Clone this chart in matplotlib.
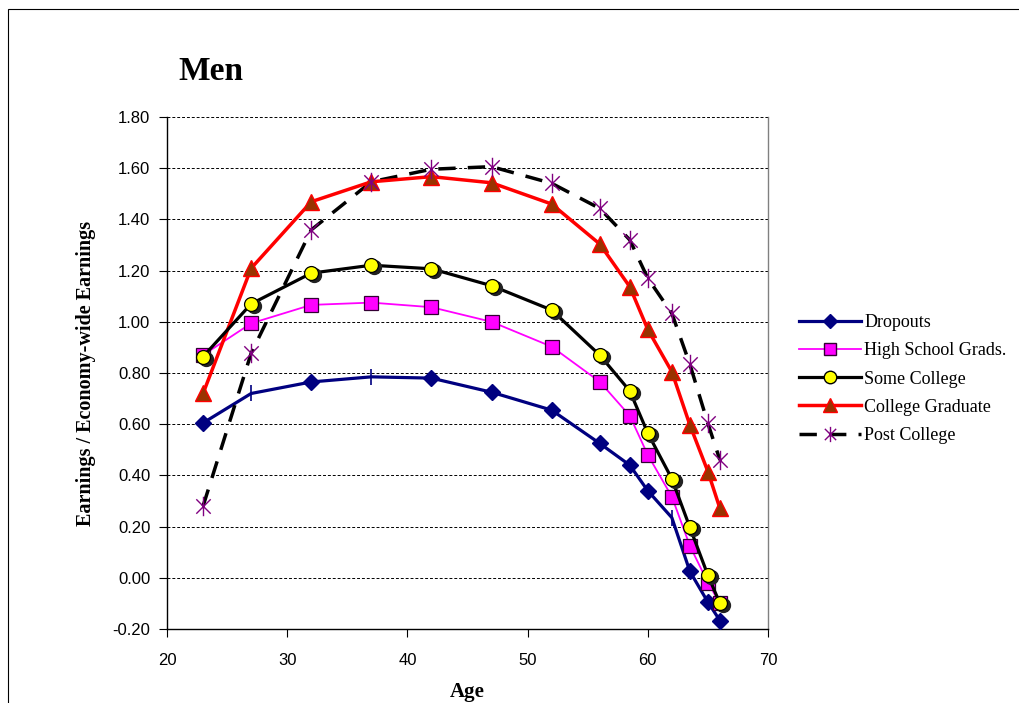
import matplotlib
matplotlib.use("Agg")
import matplotlib.pyplot as plt
from matplotlib.lines import Line2D
from matplotlib.path import Path
from matplotlib.patches import Rectangle
import numpy as np

ages = [23, 27, 32, 37, 42, 47, 52, 56, 58.5, 60, 62, 63.5, 65, 66]
dropouts = [0.605, 0.72, 0.765, 0.785, 0.78, 0.725, 0.655, 0.525, 0.44, 0.34, 0.235, 0.025, -0.095, -0.167]
hs_grads = [0.87, 0.994, 1.066, 1.075, 1.057, 1.0, 0.903, 0.766, 0.633, 0.48, 0.317, 0.125, -0.019, -0.10]
some_college = [0.864, 1.07, 1.19, 1.221, 1.207, 1.141, 1.046, 0.87, 0.73, 0.565, 0.387, 0.197, 0.01, -0.10]
college_grad = [0.72, 1.209, 1.469, 1.547, 1.567, 1.543, 1.46, 1.304, 1.137, 0.97, 0.805, 0.597, 0.415, 0.271]
post_college = [0.28, 0.877, 1.359, 1.547, 1.596, 1.606, 1.541, 1.443, 1.32, 1.17, 1.033, 0.834, 0.603, 0.46]

labels = ["Dropouts", "High School Grads.", "Some College", "College Graduate", "Post College"]
yticks = [-0.2, 0.0, 0.2, 0.4, 0.6, 0.8, 1.0, 1.2, 1.4, 1.6, 1.8]
xticks = [20, 30, 40, 50, 60, 70]

serif = "Liberation Serif"
sans = "Liberation Sans"

fig = plt.figure(figsize=(10.19, 7.03), dpi=100)
W, H = 1019, 703
ax = fig.add_axes([167 / W, 1 - 629 / H, (768 - 167) / W, (629 - 117) / H])

# outer chart border
fig.patches.append(Rectangle((8 / W, -0.05), 1.2, 1 - 9 / H + 0.05, transform=fig.transFigure,
                             fill=False, edgecolor="black", linewidth=0.8))

# star marker: X plus vertical line
star = Path([(-1, -1), (1, 1), (-1, 1), (1, -1), (0, -1.35), (0, 1.35)],
            [Path.MOVETO, Path.LINETO, Path.MOVETO, Path.LINETO, Path.MOVETO, Path.LINETO])

# Dropouts
dia_idx = [i for i in range(len(ages)) if i not in (1, 3, 10)]
tick_idx = [1, 3, 10]
ax.plot(ages, dropouts, color="#000080", lw=2.3, marker="D", markersize=8,
        markerfacecolor="#000080", markeredgecolor="#000080", markevery=dia_idx, zorder=3)
ax.plot([ages[i] for i in tick_idx], [dropouts[i] for i in tick_idx], ls="none",
        marker="|", markersize=11, markeredgewidth=1.2, color="#000080", zorder=3)

# High school grads
ax.plot(ages, hs_grads, color="#FF00FF", lw=1.3, marker="s", markersize=10,
        markerfacecolor="#FF00FF", markeredgecolor="#330033", markeredgewidth=0.9, zorder=4)

# Some college (with slight shadow)
ax.plot(ages, some_college, color="black", lw=2.3, zorder=5)
offs = 0.25
ax.plot([a + offs for a in ages], [v - 0.008 for v in some_college], ls="none", marker="o",
        markersize=10, markerfacecolor="#222222", markeredgecolor="#222222", zorder=5)
ax.plot(ages, some_college, ls="none", marker="o", markersize=10,
        markerfacecolor="#FFFF00", markeredgecolor="black", markeredgewidth=0.9, zorder=6)

# College graduate
ax.plot(ages, college_grad, color="#FF0000", lw=2.5, marker="^", markersize=12,
        markerfacecolor="#993300", markeredgecolor="#FF0000", markeredgewidth=1.0, zorder=4)

# Post college
ax.plot(ages, post_college, color="black", lw=2.5, dashes=(5, 3.5), zorder=3)
ax.plot(ages, post_college, ls="none", marker=star, markersize=14,
        markeredgecolor="#800080", markerfacecolor="none", markeredgewidth=1.0, zorder=7)

ax.set_xlim(20, 70)
ax.set_ylim(-0.2, 1.8)
ax.set_xticks(xticks)
ax.set_yticks(yticks)
ax.set_xticklabels([str(x) for x in xticks], fontfamily=sans, fontsize=12)
ax.set_yticklabels([f"{y:.2f}" for y in yticks], fontfamily=sans, fontsize=12)
ax.yaxis.grid(True, color="black", linestyle=(0, (3, 2)), linewidth=0.7)
ax.set_axisbelow(True)
ax.tick_params(axis="both", direction="out", length=6, width=0.8, color="black")
ax.tick_params(axis="x", pad=11)
ax.tick_params(axis="y", pad=6)
for s in ("left", "bottom"):
    ax.spines[s].set_color("black")
    ax.spines[s].set_linewidth(1.0)
for s in ("top", "right"):
    ax.spines[s].set_color("#808080")
    ax.spines[s].set_linewidth(1.0)
ax.spines["top"].set_visible(False)

ax.set_xlabel("Age", fontfamily=serif, fontweight="bold", fontsize=15, labelpad=10)
ax.set_ylabel("Earnings / Economy-wide Earnings", fontfamily=serif, fontweight="bold",
              fontsize=14.5, labelpad=12)

fig.text(178 / W, 1 - 80 / H, "Men", fontfamily=serif, fontweight="bold", fontsize=24,
         ha="left", va="baseline")

handles = [
    Line2D([], [], color="#000080", lw=2.3, marker="D", markersize=7, markerfacecolor="#000080"),
    Line2D([], [], color="#FF00FF", lw=1.3, marker="s", markersize=9, markerfacecolor="#FF00FF",
           markeredgecolor="#330033"),
    Line2D([], [], color="black", lw=2.3, marker="o", markersize=9, markerfacecolor="#FFFF00",
           markeredgecolor="black"),
    Line2D([], [], color="#FF0000", lw=2.5, marker="^", markersize=10, markerfacecolor="#993300",
           markeredgecolor="#FF0000"),
    Line2D([], [], color="black", lw=2.5, dashes=(5, 3.5), marker=star, markersize=11,
           markeredgecolor="#800080", markerfacecolor="none"),
]
fig.legend(handles, labels, loc="upper left", bbox_to_anchor=(792 / W, 1 - 307 / H),
           frameon=False, prop={"family": serif, "size": 13}, handlelength=3.4,
           handletextpad=0.2, labelspacing=0.62, borderaxespad=0)

fig.savefig("out.png", dpi=100)
